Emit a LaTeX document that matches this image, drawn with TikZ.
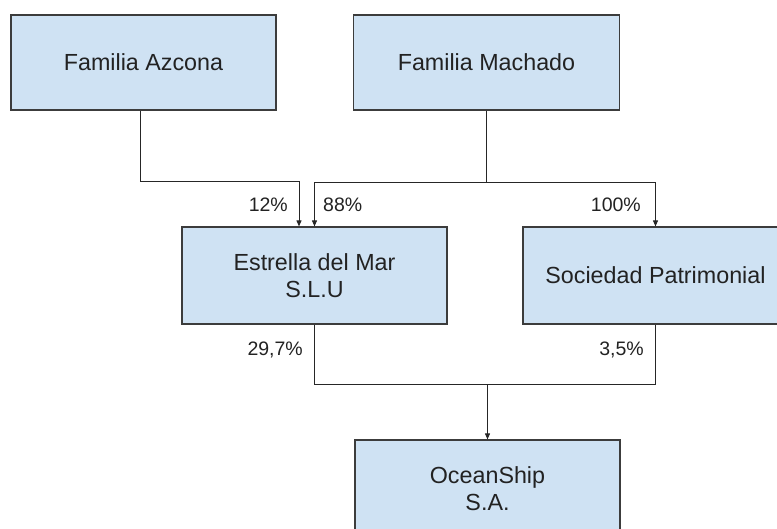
\documentclass[tikz,border=0pt]{standalone}
\usepackage{fontspec}
\setmainfont{Liberation Sans}
\usetikzlibrary{arrows.meta}
\definecolor{boxfill}{HTML}{CFE2F3}
\definecolor{boxline}{HTML}{3C3C3C}
\definecolor{txt}{HTML}{222222}
\tikzset{
  ent/.style={draw=boxline, line width=1.2pt, fill=boxfill, rectangle, inner sep=0pt,
    text=txt, align=center, font=\fontsize{23.3}{27}\selectfont},
  conn/.style={draw=black!85, line width=1pt},
  arr/.style={conn, -{Triangle[length=6pt,width=5pt]}},
  pct/.style={inner sep=0pt, text=txt, font=\fontsize{19.5}{23}\selectfont}
}
\begin{document}
\begin{tikzpicture}[x=1pt,y=-1pt]
\useasboundingbox (0,0) rectangle (777,528);
\clip (0,0) rectangle (777,528);
% boxes
\node[ent, minimum width=265pt, minimum height=95pt] (azc) at (143.5,62.5) {Familia Azcona};
\node[ent, minimum width=266pt, minimum height=95pt] (mach) at (486.5,62.5) {Familia Machado};
\node[ent, minimum width=265pt, minimum height=97pt] (est) at (314.5,275.5) {Estrella del Mar\\S.L.U};
\node[ent, minimum width=265pt, minimum height=97pt] (soc) at (655.5,275.5) {Sociedad Patrimonial};
\node[ent, minimum width=265pt, minimum height=97pt] (ocean) at (487.5,488.5) {OceanShip\\S.A.};
% helper coordinates
\coordinate (azcx) at (140,0);
\coordinate (azcy) at (0,181);
\coordinate (machy) at (0,182);
\coordinate (azcin) at (299,0);
\coordinate (boty) at (0,384);
% Azcona -> Estrella
\draw[arr] (azc.south -| azcx) -- (azcx |- azcy) -- (azcin |- azcy) -- (azcin |- est.north);
% Machado -> Estrella and Sociedad
\coordinate (mj) at (mach.south |- machy);
\draw[conn] (mach.south) -- (mj);
\draw[arr] (mj) -- (est.north |- machy) -- (est.north);
\draw[arr] (mj) -- (soc.north |- machy) -- (soc.north);
% Estrella, Sociedad -> OceanShip
\coordinate (oj) at (ocean.north |- boty);
\draw[conn] (est.south) -- (est.south |- boty) -- (soc.south |- boty) -- (soc.south);
\draw[arr] (oj) -- (ocean.north);
% labels
\node[pct, anchor=east] (l12) at (288,205) {12\%};
\node[pct, anchor=west] (l88) at (323,205) {88\%};
\node[pct, anchor=east] (l100) at (641,205) {100\%};
\node[pct, anchor=east] (l297) at (303,350) {29,7\%};
\node[pct, anchor=east] (l35) at (644,350) {3,5\%};
\end{tikzpicture}
\end{document}
